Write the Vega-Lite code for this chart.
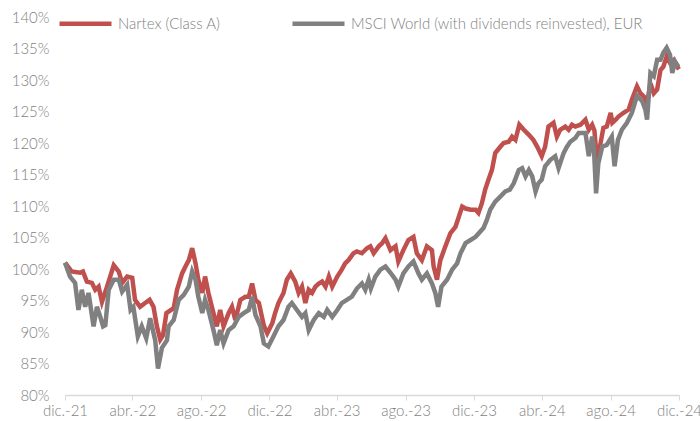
{
  "$schema": "https://vega.github.io/schema/vega-lite/v6.json",
  "width": 614,
  "height": 378,
  "autosize": "none",
  "padding": {"left": 65, "top": 17, "right": 21, "bottom": 26},
  "background": "white",
  "config": {
    "view": {"stroke": null},
    "font": "Lato",
    "axis": {"labelFont": "Lato", "labelFontWeight": 300, "labelFontSize": 15, "labelColor": "#7f7f7f", "grid": false},
    "legend": {"labelFont": "Lato", "labelFontWeight": 300, "labelFontSize": 15, "labelColor": "#7f7f7f"}
  },
  "data": {"values": [
    {"series": "Nartex (Class A)", "date": "2021-12-31", "value": 101.0},
    {"series": "Nartex (Class A)", "date": "2022-01-12", "value": 99.6},
    {"series": "Nartex (Class A)", "date": "2022-01-27", "value": 99.4},
    {"series": "Nartex (Class A)", "date": "2022-02-01", "value": 99.6},
    {"series": "Nartex (Class A)", "date": "2022-02-08", "value": 98.0},
    {"series": "Nartex (Class A)", "date": "2022-02-17", "value": 97.8},
    {"series": "Nartex (Class A)", "date": "2022-02-23", "value": 96.7},
    {"series": "Nartex (Class A)", "date": "2022-03-01", "value": 97.2},
    {"series": "Nartex (Class A)", "date": "2022-03-07", "value": 94.8},
    {"series": "Nartex (Class A)", "date": "2022-03-16", "value": 97.2},
    {"series": "Nartex (Class A)", "date": "2022-03-28", "value": 100.6},
    {"series": "Nartex (Class A)", "date": "2022-04-06", "value": 99.6},
    {"series": "Nartex (Class A)", "date": "2022-04-12", "value": 97.8},
    {"series": "Nartex (Class A)", "date": "2022-04-21", "value": 98.8},
    {"series": "Nartex (Class A)", "date": "2022-04-30", "value": 98.6},
    {"series": "Nartex (Class A)", "date": "2022-05-05", "value": 95.1},
    {"series": "Nartex (Class A)", "date": "2022-05-14", "value": 94.0},
    {"series": "Nartex (Class A)", "date": "2022-05-23", "value": 94.6},
    {"series": "Nartex (Class A)", "date": "2022-05-31", "value": 95.1},
    {"series": "Nartex (Class A)", "date": "2022-06-07", "value": 94.0},
    {"series": "Nartex (Class A)", "date": "2022-06-13", "value": 90.9},
    {"series": "Nartex (Class A)", "date": "2022-06-19", "value": 88.8},
    {"series": "Nartex (Class A)", "date": "2022-06-24", "value": 89.5},
    {"series": "Nartex (Class A)", "date": "2022-06-30", "value": 93.0},
    {"series": "Nartex (Class A)", "date": "2022-07-13", "value": 93.8},
    {"series": "Nartex (Class A)", "date": "2022-07-19", "value": 96.7},
    {"series": "Nartex (Class A)", "date": "2022-07-28", "value": 99.3},
    {"series": "Nartex (Class A)", "date": "2022-08-03", "value": 100.4},
    {"series": "Nartex (Class A)", "date": "2022-08-09", "value": 101.4},
    {"series": "Nartex (Class A)", "date": "2022-08-15", "value": 103.3},
    {"series": "Nartex (Class A)", "date": "2022-08-21", "value": 100.9},
    {"series": "Nartex (Class A)", "date": "2022-08-26", "value": 98.3},
    {"series": "Nartex (Class A)", "date": "2022-09-02", "value": 96.2},
    {"series": "Nartex (Class A)", "date": "2022-09-07", "value": 98.8},
    {"series": "Nartex (Class A)", "date": "2022-09-13", "value": 96.2},
    {"series": "Nartex (Class A)", "date": "2022-09-22", "value": 93.0},
    {"series": "Nartex (Class A)", "date": "2022-09-28", "value": 90.9},
    {"series": "Nartex (Class A)", "date": "2022-10-04", "value": 93.5},
    {"series": "Nartex (Class A)", "date": "2022-10-10", "value": 90.9},
    {"series": "Nartex (Class A)", "date": "2022-10-19", "value": 93.0},
    {"series": "Nartex (Class A)", "date": "2022-10-25", "value": 94.0},
    {"series": "Nartex (Class A)", "date": "2022-10-31", "value": 91.9},
    {"series": "Nartex (Class A)", "date": "2022-11-09", "value": 95.1},
    {"series": "Nartex (Class A)", "date": "2022-11-18", "value": 95.6},
    {"series": "Nartex (Class A)", "date": "2022-11-24", "value": 95.6},
    {"series": "Nartex (Class A)", "date": "2022-11-30", "value": 97.7},
    {"series": "Nartex (Class A)", "date": "2022-12-06", "value": 95.1},
    {"series": "Nartex (Class A)", "date": "2022-12-12", "value": 94.6},
    {"series": "Nartex (Class A)", "date": "2022-12-21", "value": 91.0},
    {"series": "Nartex (Class A)", "date": "2022-12-27", "value": 89.8},
    {"series": "Nartex (Class A)", "date": "2023-01-05", "value": 91.4},
    {"series": "Nartex (Class A)", "date": "2023-01-10", "value": 93.0},
    {"series": "Nartex (Class A)", "date": "2023-01-16", "value": 94.6},
    {"series": "Nartex (Class A)", "date": "2023-01-25", "value": 96.2},
    {"series": "Nartex (Class A)", "date": "2023-01-31", "value": 98.3},
    {"series": "Nartex (Class A)", "date": "2023-02-07", "value": 99.3},
    {"series": "Nartex (Class A)", "date": "2023-02-15", "value": 98.0},
    {"series": "Nartex (Class A)", "date": "2023-02-21", "value": 96.2},
    {"series": "Nartex (Class A)", "date": "2023-02-27", "value": 97.2},
    {"series": "Nartex (Class A)", "date": "2023-03-05", "value": 94.6},
    {"series": "Nartex (Class A)", "date": "2023-03-11", "value": 96.7},
    {"series": "Nartex (Class A)", "date": "2023-03-17", "value": 96.2},
    {"series": "Nartex (Class A)", "date": "2023-03-23", "value": 97.2},
    {"series": "Nartex (Class A)", "date": "2023-03-29", "value": 97.7},
    {"series": "Nartex (Class A)", "date": "2023-04-04", "value": 98.0},
    {"series": "Nartex (Class A)", "date": "2023-04-10", "value": 97.2},
    {"series": "Nartex (Class A)", "date": "2023-04-16", "value": 98.8},
    {"series": "Nartex (Class A)", "date": "2023-04-22", "value": 97.2},
    {"series": "Nartex (Class A)", "date": "2023-05-01", "value": 98.8},
    {"series": "Nartex (Class A)", "date": "2023-05-09", "value": 99.9},
    {"series": "Nartex (Class A)", "date": "2023-05-15", "value": 100.9},
    {"series": "Nartex (Class A)", "date": "2023-05-21", "value": 101.4},
    {"series": "Nartex (Class A)", "date": "2023-05-30", "value": 102.5},
    {"series": "Nartex (Class A)", "date": "2023-06-05", "value": 102.8},
    {"series": "Nartex (Class A)", "date": "2023-06-14", "value": 102.5},
    {"series": "Nartex (Class A)", "date": "2023-06-23", "value": 103.3},
    {"series": "Nartex (Class A)", "date": "2023-06-29", "value": 103.6},
    {"series": "Nartex (Class A)", "date": "2023-07-05", "value": 102.5},
    {"series": "Nartex (Class A)", "date": "2023-07-14", "value": 103.6},
    {"series": "Nartex (Class A)", "date": "2023-07-20", "value": 104.1},
    {"series": "Nartex (Class A)", "date": "2023-07-26", "value": 104.9},
    {"series": "Nartex (Class A)", "date": "2023-08-04", "value": 103.0},
    {"series": "Nartex (Class A)", "date": "2023-08-13", "value": 103.6},
    {"series": "Nartex (Class A)", "date": "2023-08-18", "value": 101.2},
    {"series": "Nartex (Class A)", "date": "2023-08-27", "value": 103.0},
    {"series": "Nartex (Class A)", "date": "2023-09-05", "value": 104.6},
    {"series": "Nartex (Class A)", "date": "2023-09-14", "value": 105.1},
    {"series": "Nartex (Class A)", "date": "2023-09-20", "value": 102.5},
    {"series": "Nartex (Class A)", "date": "2023-09-29", "value": 101.4},
    {"series": "Nartex (Class A)", "date": "2023-10-08", "value": 103.6},
    {"series": "Nartex (Class A)", "date": "2023-10-17", "value": 103.0},
    {"series": "Nartex (Class A)", "date": "2023-10-20", "value": 100.4},
    {"series": "Nartex (Class A)", "date": "2023-10-26", "value": 98.3},
    {"series": "Nartex (Class A)", "date": "2023-11-01", "value": 101.4},
    {"series": "Nartex (Class A)", "date": "2023-11-10", "value": 103.6},
    {"series": "Nartex (Class A)", "date": "2023-11-19", "value": 105.7},
    {"series": "Nartex (Class A)", "date": "2023-11-28", "value": 106.7},
    {"series": "Nartex (Class A)", "date": "2023-12-04", "value": 108.3},
    {"series": "Nartex (Class A)", "date": "2023-12-10", "value": 109.9},
    {"series": "Nartex (Class A)", "date": "2023-12-16", "value": 109.6},
    {"series": "Nartex (Class A)", "date": "2023-12-25", "value": 109.4},
    {"series": "Nartex (Class A)", "date": "2024-01-03", "value": 109.4},
    {"series": "Nartex (Class A)", "date": "2024-01-08", "value": 108.9},
    {"series": "Nartex (Class A)", "date": "2024-01-14", "value": 110.4},
    {"series": "Nartex (Class A)", "date": "2024-01-20", "value": 112.6},
    {"series": "Nartex (Class A)", "date": "2024-01-26", "value": 114.2},
    {"series": "Nartex (Class A)", "date": "2024-02-01", "value": 115.7},
    {"series": "Nartex (Class A)", "date": "2024-02-07", "value": 118.4},
    {"series": "Nartex (Class A)", "date": "2024-02-16", "value": 119.4},
    {"series": "Nartex (Class A)", "date": "2024-02-22", "value": 120.0},
    {"series": "Nartex (Class A)", "date": "2024-03-02", "value": 120.2},
    {"series": "Nartex (Class A)", "date": "2024-03-08", "value": 121.0},
    {"series": "Nartex (Class A)", "date": "2024-03-14", "value": 120.5},
    {"series": "Nartex (Class A)", "date": "2024-03-21", "value": 122.9},
    {"series": "Nartex (Class A)", "date": "2024-03-29", "value": 122.1},
    {"series": "Nartex (Class A)", "date": "2024-04-07", "value": 121.3},
    {"series": "Nartex (Class A)", "date": "2024-04-15", "value": 120.5},
    {"series": "Nartex (Class A)", "date": "2024-04-22", "value": 119.4},
    {"series": "Nartex (Class A)", "date": "2024-04-30", "value": 117.9},
    {"series": "Nartex (Class A)", "date": "2024-05-06", "value": 119.4},
    {"series": "Nartex (Class A)", "date": "2024-05-12", "value": 122.6},
    {"series": "Nartex (Class A)", "date": "2024-05-21", "value": 123.2},
    {"series": "Nartex (Class A)", "date": "2024-05-27", "value": 121.0},
    {"series": "Nartex (Class A)", "date": "2024-06-02", "value": 122.1},
    {"series": "Nartex (Class A)", "date": "2024-06-11", "value": 122.6},
    {"series": "Nartex (Class A)", "date": "2024-06-17", "value": 122.1},
    {"series": "Nartex (Class A)", "date": "2024-06-23", "value": 122.9},
    {"series": "Nartex (Class A)", "date": "2024-06-29", "value": 122.6},
    {"series": "Nartex (Class A)", "date": "2024-07-08", "value": 122.9},
    {"series": "Nartex (Class A)", "date": "2024-07-17", "value": 123.7},
    {"series": "Nartex (Class A)", "date": "2024-07-23", "value": 122.1},
    {"series": "Nartex (Class A)", "date": "2024-07-29", "value": 122.9},
    {"series": "Nartex (Class A)", "date": "2024-08-02", "value": 122.0},
    {"series": "Nartex (Class A)", "date": "2024-08-07", "value": 116.8},
    {"series": "Nartex (Class A)", "date": "2024-08-13", "value": 120.0},
    {"series": "Nartex (Class A)", "date": "2024-08-18", "value": 122.4},
    {"series": "Nartex (Class A)", "date": "2024-08-24", "value": 122.6},
    {"series": "Nartex (Class A)", "date": "2024-08-31", "value": 124.8},
    {"series": "Nartex (Class A)", "date": "2024-09-03", "value": 123.2},
    {"series": "Nartex (Class A)", "date": "2024-09-09", "value": 123.7},
    {"series": "Nartex (Class A)", "date": "2024-09-14", "value": 124.2},
    {"series": "Nartex (Class A)", "date": "2024-09-23", "value": 124.8},
    {"series": "Nartex (Class A)", "date": "2024-10-02", "value": 125.3},
    {"series": "Nartex (Class A)", "date": "2024-10-08", "value": 126.9},
    {"series": "Nartex (Class A)", "date": "2024-10-17", "value": 129.0},
    {"series": "Nartex (Class A)", "date": "2024-10-23", "value": 127.9},
    {"series": "Nartex (Class A)", "date": "2024-10-29", "value": 127.4},
    {"series": "Nartex (Class A)", "date": "2024-11-04", "value": 126.3},
    {"series": "Nartex (Class A)", "date": "2024-11-10", "value": 129.5},
    {"series": "Nartex (Class A)", "date": "2024-11-16", "value": 127.9},
    {"series": "Nartex (Class A)", "date": "2024-11-22", "value": 128.5},
    {"series": "Nartex (Class A)", "date": "2024-11-28", "value": 131.6},
    {"series": "Nartex (Class A)", "date": "2024-12-03", "value": 132.1},
    {"series": "Nartex (Class A)", "date": "2024-12-09", "value": 133.7},
    {"series": "Nartex (Class A)", "date": "2024-12-15", "value": 132.7},
    {"series": "Nartex (Class A)", "date": "2024-12-22", "value": 133.2},
    {"series": "Nartex (Class A)", "date": "2024-12-28", "value": 132.1},
    {"series": "Nartex (Class A)", "date": "2024-12-31", "value": 131.7},
    {"series": "MSCI World (with dividends reinvested), EUR", "date": "2021-12-31", "value": 101.0},
    {"series": "MSCI World (with dividends reinvested), EUR", "date": "2022-01-09", "value": 98.8},
    {"series": "MSCI World (with dividends reinvested), EUR", "date": "2022-01-18", "value": 97.8},
    {"series": "MSCI World (with dividends reinvested), EUR", "date": "2022-01-24", "value": 93.5},
    {"series": "MSCI World (with dividends reinvested), EUR", "date": "2022-01-30", "value": 96.7},
    {"series": "MSCI World (with dividends reinvested), EUR", "date": "2022-02-05", "value": 94.0},
    {"series": "MSCI World (with dividends reinvested), EUR", "date": "2022-02-11", "value": 96.2},
    {"series": "MSCI World (with dividends reinvested), EUR", "date": "2022-02-20", "value": 90.9},
    {"series": "MSCI World (with dividends reinvested), EUR", "date": "2022-02-26", "value": 94.0},
    {"series": "MSCI World (with dividends reinvested), EUR", "date": "2022-03-04", "value": 92.4},
    {"series": "MSCI World (with dividends reinvested), EUR", "date": "2022-03-09", "value": 90.9},
    {"series": "MSCI World (with dividends reinvested), EUR", "date": "2022-03-13", "value": 91.1},
    {"series": "MSCI World (with dividends reinvested), EUR", "date": "2022-03-19", "value": 96.7},
    {"series": "MSCI World (with dividends reinvested), EUR", "date": "2022-03-28", "value": 98.3},
    {"series": "MSCI World (with dividends reinvested), EUR", "date": "2022-04-06", "value": 98.3},
    {"series": "MSCI World (with dividends reinvested), EUR", "date": "2022-04-12", "value": 96.4},
    {"series": "MSCI World (with dividends reinvested), EUR", "date": "2022-04-21", "value": 97.5},
    {"series": "MSCI World (with dividends reinvested), EUR", "date": "2022-04-27", "value": 93.5},
    {"series": "MSCI World (with dividends reinvested), EUR", "date": "2022-05-02", "value": 94.0},
    {"series": "MSCI World (with dividends reinvested), EUR", "date": "2022-05-10", "value": 89.3},
    {"series": "MSCI World (with dividends reinvested), EUR", "date": "2022-05-17", "value": 90.9},
    {"series": "MSCI World (with dividends reinvested), EUR", "date": "2022-05-25", "value": 89.0},
    {"series": "MSCI World (with dividends reinvested), EUR", "date": "2022-06-01", "value": 92.2},
    {"series": "MSCI World (with dividends reinvested), EUR", "date": "2022-06-10", "value": 88.7},
    {"series": "MSCI World (with dividends reinvested), EUR", "date": "2022-06-15", "value": 84.2},
    {"series": "MSCI World (with dividends reinvested), EUR", "date": "2022-06-22", "value": 87.5},
    {"series": "MSCI World (with dividends reinvested), EUR", "date": "2022-07-01", "value": 88.7},
    {"series": "MSCI World (with dividends reinvested), EUR", "date": "2022-07-04", "value": 90.9},
    {"series": "MSCI World (with dividends reinvested), EUR", "date": "2022-07-13", "value": 91.9},
    {"series": "MSCI World (with dividends reinvested), EUR", "date": "2022-07-22", "value": 95.1},
    {"series": "MSCI World (with dividends reinvested), EUR", "date": "2022-07-31", "value": 95.9},
    {"series": "MSCI World (with dividends reinvested), EUR", "date": "2022-08-09", "value": 97.2},
    {"series": "MSCI World (with dividends reinvested), EUR", "date": "2022-08-15", "value": 99.6},
    {"series": "MSCI World (with dividends reinvested), EUR", "date": "2022-08-21", "value": 98.3},
    {"series": "MSCI World (with dividends reinvested), EUR", "date": "2022-08-26", "value": 95.6},
    {"series": "MSCI World (with dividends reinvested), EUR", "date": "2022-09-02", "value": 93.0},
    {"series": "MSCI World (with dividends reinvested), EUR", "date": "2022-09-07", "value": 95.1},
    {"series": "MSCI World (with dividends reinvested), EUR", "date": "2022-09-13", "value": 93.5},
    {"series": "MSCI World (with dividends reinvested), EUR", "date": "2022-09-22", "value": 90.3},
    {"series": "MSCI World (with dividends reinvested), EUR", "date": "2022-09-28", "value": 87.9},
    {"series": "MSCI World (with dividends reinvested), EUR", "date": "2022-10-04", "value": 90.3},
    {"series": "MSCI World (with dividends reinvested), EUR", "date": "2022-10-10", "value": 88.2},
    {"series": "MSCI World (with dividends reinvested), EUR", "date": "2022-10-19", "value": 90.3},
    {"series": "MSCI World (with dividends reinvested), EUR", "date": "2022-10-28", "value": 90.9},
    {"series": "MSCI World (with dividends reinvested), EUR", "date": "2022-11-06", "value": 92.4},
    {"series": "MSCI World (with dividends reinvested), EUR", "date": "2022-11-15", "value": 93.0},
    {"series": "MSCI World (with dividends reinvested), EUR", "date": "2022-11-24", "value": 93.5},
    {"series": "MSCI World (with dividends reinvested), EUR", "date": "2022-11-30", "value": 95.6},
    {"series": "MSCI World (with dividends reinvested), EUR", "date": "2022-12-06", "value": 92.7},
    {"series": "MSCI World (with dividends reinvested), EUR", "date": "2022-12-15", "value": 90.9},
    {"series": "MSCI World (with dividends reinvested), EUR", "date": "2022-12-21", "value": 88.2},
    {"series": "MSCI World (with dividends reinvested), EUR", "date": "2022-12-29", "value": 87.7},
    {"series": "MSCI World (with dividends reinvested), EUR", "date": "2023-01-07", "value": 89.3},
    {"series": "MSCI World (with dividends reinvested), EUR", "date": "2023-01-16", "value": 90.9},
    {"series": "MSCI World (with dividends reinvested), EUR", "date": "2023-01-25", "value": 91.9},
    {"series": "MSCI World (with dividends reinvested), EUR", "date": "2023-02-03", "value": 94.0},
    {"series": "MSCI World (with dividends reinvested), EUR", "date": "2023-02-09", "value": 94.6},
    {"series": "MSCI World (with dividends reinvested), EUR", "date": "2023-02-18", "value": 93.5},
    {"series": "MSCI World (with dividends reinvested), EUR", "date": "2023-02-27", "value": 92.4},
    {"series": "MSCI World (with dividends reinvested), EUR", "date": "2023-03-05", "value": 93.0},
    {"series": "MSCI World (with dividends reinvested), EUR", "date": "2023-03-11", "value": 90.3},
    {"series": "MSCI World (with dividends reinvested), EUR", "date": "2023-03-20", "value": 91.9},
    {"series": "MSCI World (with dividends reinvested), EUR", "date": "2023-03-29", "value": 93.0},
    {"series": "MSCI World (with dividends reinvested), EUR", "date": "2023-04-07", "value": 92.4},
    {"series": "MSCI World (with dividends reinvested), EUR", "date": "2023-04-13", "value": 93.5},
    {"series": "MSCI World (with dividends reinvested), EUR", "date": "2023-04-22", "value": 92.4},
    {"series": "MSCI World (with dividends reinvested), EUR", "date": "2023-05-01", "value": 93.5},
    {"series": "MSCI World (with dividends reinvested), EUR", "date": "2023-05-09", "value": 94.6},
    {"series": "MSCI World (with dividends reinvested), EUR", "date": "2023-05-18", "value": 95.1},
    {"series": "MSCI World (with dividends reinvested), EUR", "date": "2023-05-27", "value": 95.6},
    {"series": "MSCI World (with dividends reinvested), EUR", "date": "2023-06-05", "value": 96.9},
    {"series": "MSCI World (with dividends reinvested), EUR", "date": "2023-06-14", "value": 97.7},
    {"series": "MSCI World (with dividends reinvested), EUR", "date": "2023-06-20", "value": 96.7},
    {"series": "MSCI World (with dividends reinvested), EUR", "date": "2023-06-26", "value": 98.3},
    {"series": "MSCI World (with dividends reinvested), EUR", "date": "2023-06-30", "value": 96.9},
    {"series": "MSCI World (with dividends reinvested), EUR", "date": "2023-07-08", "value": 98.8},
    {"series": "MSCI World (with dividends reinvested), EUR", "date": "2023-07-17", "value": 99.9},
    {"series": "MSCI World (with dividends reinvested), EUR", "date": "2023-07-26", "value": 100.4},
    {"series": "MSCI World (with dividends reinvested), EUR", "date": "2023-08-04", "value": 99.4},
    {"series": "MSCI World (with dividends reinvested), EUR", "date": "2023-08-13", "value": 98.3},
    {"series": "MSCI World (with dividends reinvested), EUR", "date": "2023-08-18", "value": 97.2},
    {"series": "MSCI World (with dividends reinvested), EUR", "date": "2023-08-27", "value": 99.3},
    {"series": "MSCI World (with dividends reinvested), EUR", "date": "2023-09-05", "value": 100.4},
    {"series": "MSCI World (with dividends reinvested), EUR", "date": "2023-09-14", "value": 101.2},
    {"series": "MSCI World (with dividends reinvested), EUR", "date": "2023-09-23", "value": 99.3},
    {"series": "MSCI World (with dividends reinvested), EUR", "date": "2023-09-29", "value": 98.3},
    {"series": "MSCI World (with dividends reinvested), EUR", "date": "2023-10-08", "value": 99.3},
    {"series": "MSCI World (with dividends reinvested), EUR", "date": "2023-10-17", "value": 97.7},
    {"series": "MSCI World (with dividends reinvested), EUR", "date": "2023-10-23", "value": 96.2},
    {"series": "MSCI World (with dividends reinvested), EUR", "date": "2023-10-28", "value": 94.0},
    {"series": "MSCI World (with dividends reinvested), EUR", "date": "2023-11-03", "value": 97.2},
    {"series": "MSCI World (with dividends reinvested), EUR", "date": "2023-11-13", "value": 98.3},
    {"series": "MSCI World (with dividends reinvested), EUR", "date": "2023-11-22", "value": 99.9},
    {"series": "MSCI World (with dividends reinvested), EUR", "date": "2023-12-01", "value": 100.9},
    {"series": "MSCI World (with dividends reinvested), EUR", "date": "2023-12-07", "value": 102.5},
    {"series": "MSCI World (with dividends reinvested), EUR", "date": "2023-12-16", "value": 104.1},
    {"series": "MSCI World (with dividends reinvested), EUR", "date": "2023-12-25", "value": 104.6},
    {"series": "MSCI World (with dividends reinvested), EUR", "date": "2024-01-03", "value": 105.1},
    {"series": "MSCI World (with dividends reinvested), EUR", "date": "2024-01-17", "value": 106.5},
    {"series": "MSCI World (with dividends reinvested), EUR", "date": "2024-01-23", "value": 107.8},
    {"series": "MSCI World (with dividends reinvested), EUR", "date": "2024-01-29", "value": 109.4},
    {"series": "MSCI World (with dividends reinvested), EUR", "date": "2024-02-07", "value": 110.7},
    {"series": "MSCI World (with dividends reinvested), EUR", "date": "2024-02-16", "value": 111.5},
    {"series": "MSCI World (with dividends reinvested), EUR", "date": "2024-02-25", "value": 112.3},
    {"series": "MSCI World (with dividends reinvested), EUR", "date": "2024-03-04", "value": 112.6},
    {"series": "MSCI World (with dividends reinvested), EUR", "date": "2024-03-11", "value": 113.6},
    {"series": "MSCI World (with dividends reinvested), EUR", "date": "2024-03-20", "value": 115.7},
    {"series": "MSCI World (with dividends reinvested), EUR", "date": "2024-03-26", "value": 116.0},
    {"series": "MSCI World (with dividends reinvested), EUR", "date": "2024-04-01", "value": 114.7},
    {"series": "MSCI World (with dividends reinvested), EUR", "date": "2024-04-07", "value": 115.7},
    {"series": "MSCI World (with dividends reinvested), EUR", "date": "2024-04-13", "value": 114.7},
    {"series": "MSCI World (with dividends reinvested), EUR", "date": "2024-04-19", "value": 112.3},
    {"series": "MSCI World (with dividends reinvested), EUR", "date": "2024-04-24", "value": 113.6},
    {"series": "MSCI World (with dividends reinvested), EUR", "date": "2024-04-30", "value": 114.2},
    {"series": "MSCI World (with dividends reinvested), EUR", "date": "2024-05-06", "value": 116.3},
    {"series": "MSCI World (with dividends reinvested), EUR", "date": "2024-05-15", "value": 117.3},
    {"series": "MSCI World (with dividends reinvested), EUR", "date": "2024-05-24", "value": 117.9},
    {"series": "MSCI World (with dividends reinvested), EUR", "date": "2024-05-30", "value": 116.0},
    {"series": "MSCI World (with dividends reinvested), EUR", "date": "2024-06-08", "value": 118.4},
    {"series": "MSCI World (with dividends reinvested), EUR", "date": "2024-06-14", "value": 119.4},
    {"series": "MSCI World (with dividends reinvested), EUR", "date": "2024-06-20", "value": 120.2},
    {"series": "MSCI World (with dividends reinvested), EUR", "date": "2024-06-29", "value": 120.8},
    {"series": "MSCI World (with dividends reinvested), EUR", "date": "2024-07-05", "value": 121.6},
    {"series": "MSCI World (with dividends reinvested), EUR", "date": "2024-07-17", "value": 121.6},
    {"series": "MSCI World (with dividends reinvested), EUR", "date": "2024-07-23", "value": 117.9},
    {"series": "MSCI World (with dividends reinvested), EUR", "date": "2024-07-29", "value": 121.0},
    {"series": "MSCI World (with dividends reinvested), EUR", "date": "2024-08-01", "value": 119.4},
    {"series": "MSCI World (with dividends reinvested), EUR", "date": "2024-08-05", "value": 112.0},
    {"series": "MSCI World (with dividends reinvested), EUR", "date": "2024-08-09", "value": 116.8},
    {"series": "MSCI World (with dividends reinvested), EUR", "date": "2024-08-16", "value": 119.4},
    {"series": "MSCI World (with dividends reinvested), EUR", "date": "2024-08-24", "value": 119.7},
    {"series": "MSCI World (with dividends reinvested), EUR", "date": "2024-09-02", "value": 121.0},
    {"series": "MSCI World (with dividends reinvested), EUR", "date": "2024-09-07", "value": 116.3},
    {"series": "MSCI World (with dividends reinvested), EUR", "date": "2024-09-13", "value": 120.5},
    {"series": "MSCI World (with dividends reinvested), EUR", "date": "2024-09-20", "value": 122.1},
    {"series": "MSCI World (with dividends reinvested), EUR", "date": "2024-09-29", "value": 123.2},
    {"series": "MSCI World (with dividends reinvested), EUR", "date": "2024-10-08", "value": 124.8},
    {"series": "MSCI World (with dividends reinvested), EUR", "date": "2024-10-17", "value": 127.5},
    {"series": "MSCI World (with dividends reinvested), EUR", "date": "2024-10-26", "value": 126.7},
    {"series": "MSCI World (with dividends reinvested), EUR", "date": "2024-11-01", "value": 125.3},
    {"series": "MSCI World (with dividends reinvested), EUR", "date": "2024-11-04", "value": 123.7},
    {"series": "MSCI World (with dividends reinvested), EUR", "date": "2024-11-10", "value": 131.1},
    {"series": "MSCI World (with dividends reinvested), EUR", "date": "2024-11-16", "value": 130.6},
    {"series": "MSCI World (with dividends reinvested), EUR", "date": "2024-11-22", "value": 133.2},
    {"series": "MSCI World (with dividends reinvested), EUR", "date": "2024-11-28", "value": 133.2},
    {"series": "MSCI World (with dividends reinvested), EUR", "date": "2024-12-03", "value": 134.3},
    {"series": "MSCI World (with dividends reinvested), EUR", "date": "2024-12-09", "value": 135.1},
    {"series": "MSCI World (with dividends reinvested), EUR", "date": "2024-12-15", "value": 134.0},
    {"series": "MSCI World (with dividends reinvested), EUR", "date": "2024-12-19", "value": 131.1},
    {"series": "MSCI World (with dividends reinvested), EUR", "date": "2024-12-24", "value": 132.9},
    {"series": "MSCI World (with dividends reinvested), EUR", "date": "2024-12-30", "value": 132.1}
  ]},
  "encoding": {
    "x": {
      "field": "date", "type": "temporal",
      "scale": {"type": "utc", "domain": [{"year": 2021, "month": 12, "date": 31, "utc": true}, {"year": 2024, "month": 12, "date": 31, "utc": true}]},
      "axis": {
        "title": null,
        "values": [
          {"year": 2021, "month": 12, "date": 31, "utc": true},
          {"year": 2022, "month": 4, "date": 30, "utc": true},
          {"year": 2022, "month": 8, "date": 31, "utc": true},
          {"year": 2022, "month": 12, "date": 31, "utc": true},
          {"year": 2023, "month": 4, "date": 30, "utc": true},
          {"year": 2023, "month": 8, "date": 31, "utc": true},
          {"year": 2023, "month": 12, "date": 31, "utc": true},
          {"year": 2024, "month": 4, "date": 30, "utc": true},
          {"year": 2024, "month": 8, "date": 31, "utc": true},
          {"year": 2024, "month": 12, "date": 31, "utc": true}
        ],
        "labelExpr": "['ene','feb','mar','abr','may','jun','jul','ago','sep','oct','nov','dic'][utcmonth(datum.value)] + '.-' + utcFormat(datum.value, '%y')",
        "labelFlush": false,
        "labelOverlap": false,
        "labelBound": false,
        "labelPadding": 3,
        "ticks": true,
        "tickSize": 5,
        "tickColor": "#d9d9d9",
        "domainColor": "#d9d9d9",
        "domainWidth": 1.5,
        "grid": false
      }
    },
    "y": {
      "field": "value", "type": "quantitative",
      "scale": {"domain": [80, 140], "nice": false, "zero": false},
      "axis": {
        "title": null,
        "values": [80, 85, 90, 95, 100, 105, 110, 115, 120, 125, 130, 135, 140],
        "labelExpr": "datum.value + '%'",
        "domain": false,
        "ticks": false,
        "labelPadding": 16,
        "grid": false
      }
    },
    "color": {
      "field": "series", "type": "nominal",
      "scale": {"domain": ["Nartex (Class A)", "MSCI World (with dividends reinvested), EUR"], "range": ["#C0504D", "#808080"]},
      "legend": {
        "title": null,
        "orient": "none",
        "legendX": -8,
        "legendY": -22,
        "direction": "horizontal",
        "symbolType": "stroke",
        "symbolSize": 2704,
        "symbolStrokeWidth": 4.5,
        "labelOffset": 4,
        "labelLimit": 500,
        "columnPadding": 62,
        "padding": 0
      }
    }
  },
  "layer": [
    {"transform": [{"filter": "datum.series === 'Nartex (Class A)'"}], "mark": {"type": "line", "strokeWidth": 4.5, "interpolate": "linear"}},
    {"transform": [{"filter": "datum.series !== 'Nartex (Class A)'"}], "mark": {"type": "line", "strokeWidth": 4.5, "interpolate": "linear"}}
  ]
}
